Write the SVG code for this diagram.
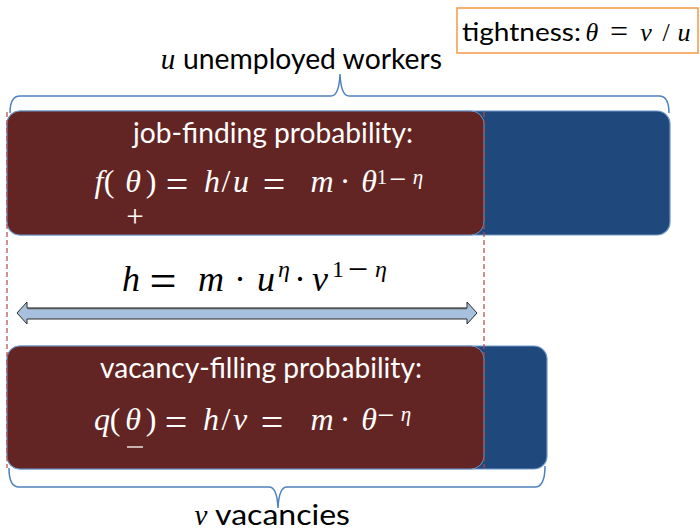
<svg xmlns="http://www.w3.org/2000/svg" width="700" height="531" viewBox="0 0 700 531">
<style>
.sans{font-family:Lato,"Liberation Sans",sans-serif}
.math{font-family:"Liberation Serif","DejaVu Serif",serif;text-anchor:middle}
.it{font-style:italic}
.wt{fill:#ffffff}
.bk{fill:#000000}
.brace{fill:none;stroke:#4f81bd;stroke-width:1.5}
.dash{stroke:#b04848;stroke-width:1.2;stroke-dasharray:5,3;fill:none}
.blue{fill:#1f497d;stroke:#6f97c9;stroke-width:1.2}
.maroon{fill:#632523;stroke:#6f97c9;stroke-width:1}
</style>
<g id="tightness">
<rect x="457" y="8" width="241" height="45" fill="#ffffff" stroke="#f79646" stroke-width="1.5"/>
<text class="sans bk" x="462" y="41" font-size="25" textLength="119" lengthAdjust="spacingAndGlyphs">tightness:</text>
<text class="math bk" y="41" font-size="26"><tspan class="it" x="592">θ</tspan><tspan x="619" y="42" font-size="32">=</tspan><tspan class="it" x="646" y="41">v</tspan><tspan x="666">/</tspan><tspan class="it" x="684">u</tspan></text>
</g>
<g id="top-label">
<text class="math it bk" x="168" y="69" font-size="29">u</text>
<text class="sans bk" x="183" y="69" font-size="28" textLength="259" lengthAdjust="spacingAndGlyphs">unemployed workers</text>
</g>
<g id="unemployed">
<rect class="blue" x="7" y="111" width="663" height="124" rx="13"/>
<rect class="maroon" x="7" y="111" width="477" height="124" rx="13"/>
<text class="sans wt" x="133" y="143" font-size="28" textLength="280" lengthAdjust="spacingAndGlyphs">job-finding probability:</text>
<text class="math wt" y="192" font-size="32"><tspan class="it" x="99">f</tspan><tspan x="109">(</tspan><tspan class="it" x="133">θ</tspan><tspan x="151">)</tspan><tspan x="177" y="198" font-size="40">=</tspan><tspan class="it" x="212" y="192">h</tspan><tspan x="226">/</tspan><tspan class="it" x="241">u</tspan><tspan x="274" y="198" font-size="40">=</tspan><tspan class="it" x="322" y="192">m</tspan><tspan x="345">·</tspan><tspan class="it" x="369">θ</tspan></text>
<text class="math wt" y="184" font-size="21"><tspan x="382">1</tspan><tspan x="398" y="188.5" font-size="30">−</tspan><tspan class="it" x="418" y="184">η</tspan></text>
<text class="math wt" x="135" y="227" font-size="31">+</text>
</g>
<g id="vacancies">
<rect class="blue" x="7" y="346" width="540" height="123" rx="13"/>
<rect class="maroon" x="7" y="346" width="477" height="123" rx="13"/>
<text class="sans wt" x="100" y="378" font-size="28" textLength="322" lengthAdjust="spacingAndGlyphs">vacancy-filling probability:</text>
<text class="math wt" y="430" font-size="32"><tspan class="it" x="102">q</tspan><tspan x="115">(</tspan><tspan class="it" x="133">θ</tspan><tspan x="151">)</tspan><tspan x="176" y="436" font-size="40">=</tspan><tspan class="it" x="211" y="430">h</tspan><tspan x="226">/</tspan><tspan class="it" x="240">v</tspan><tspan x="272" y="436" font-size="40">=</tspan><tspan class="it" x="322" y="430">m</tspan><tspan x="345">·</tspan><tspan class="it" x="369">θ</tspan></text>
<text class="math wt" y="421" font-size="21"><tspan x="386" y="424.5" font-size="30">−</tspan><tspan class="it" x="406" y="421">η</tspan></text>
<line x1="127" y1="447" x2="143" y2="447" stroke="#ffffff" stroke-width="1.3"/>
</g>
<g id="bottom-label">
<text class="math it bk" x="201" y="525" font-size="29">v</text>
<text class="sans bk" x="215" y="525" font-size="28" textLength="135" lengthAdjust="spacingAndGlyphs">vacancies</text>
</g>
<g id="matching">
<text class="math bk" y="291" font-size="36"><tspan class="it" x="131">h</tspan><tspan x="163" y="297" font-size="48">=</tspan><tspan class="it" x="211" y="291">m</tspan><tspan x="240">·</tspan><tspan class="it" x="266">u</tspan><tspan x="300">·</tspan><tspan class="it" x="320">v</tspan></text>
<text class="math bk" y="277" font-size="24"><tspan class="it" x="284">η</tspan><tspan x="338">1</tspan><tspan x="358" y="281" font-size="36">−</tspan><tspan class="it" x="381" y="277">η</tspan></text>
</g>
<g id="connectors">
<path class="brace" d="M10,113 Q10,96 20,96 L331,96 Q339,96 340,74 Q341,96 349,96 L659,96 Q669,96 669,113"/>
<path class="brace" d="M9,468 Q9,487 19,487 L269,487 Q277,487 278,508 Q279,487 287,487 L535,487 Q545,487 545,466"/>
<line class="dash" x1="7" y1="112" x2="7" y2="468"/>
<line class="dash" x1="484" y1="112" x2="484" y2="468"/>
<polygon points="17,313 27,302 27,308 467,308 467,302 477,313 467,324 467,319 27,319 27,324" fill="#a6c0de" stroke="#2a2a2a" stroke-width="1"/>
<line x1="27" y1="308.5" x2="467" y2="308.5" stroke="#555" stroke-width="1.5"/>
</g>
</svg>
